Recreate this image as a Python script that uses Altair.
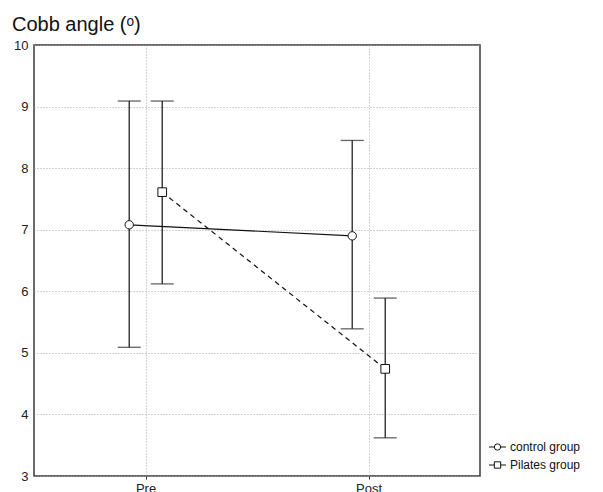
import altair as alt
import pandas as pd

# ---- data ----
times = ["Pre", "Post"]
groups = ["control group", "Pilates group"]
control_mean = [7.08, 6.90]
control_low = [5.09, 5.39]
control_high = [9.09, 8.45]
pilates_mean = [7.61, 4.74]
pilates_low = [6.12, 3.62]
pilates_high = [9.09, 5.89]
y_ticks = [3, 4, 5, 6, 7, 8, 9, 10]

rows = []
for g, means, lows, highs in [
    (groups[0], control_mean, control_low, control_high),
    (groups[1], pilates_mean, pilates_low, pilates_high),
]:
    for i, t in enumerate(times):
        rows.append({"group": g, "time": t, "t": i, "mean": means[i], "low": lows[i], "high": highs[i]})
df = pd.DataFrame(rows)

W, H = 446, 431
FONT = "Liberation Sans"

base = alt.Chart(df).transform_calculate(
    xp="datum.t + (datum.group == 'control group' ? -0.073 : 0.075)"
)

xenc = alt.X(
    "xp:Q",
    scale=alt.Scale(domain=[-0.5, 1.5], nice=False, zero=False),
    axis=alt.Axis(
        values=[0, 1],
        labelExpr="datum.value == 0 ? 'Pre' : 'Post'",
        title=None,
        grid=True,
        ticks=True,
        tickSize=3,
        tickColor="#333",
        labelPadding=3,
        domain=False,
    ),
)
yscale = alt.Scale(domain=[3, 10], nice=False, zero=False)
yenc = alt.Y(
    "mean:Q",
    scale=yscale,
    axis=alt.Axis(values=y_ticks, format="d", title=None, grid=True, ticks=False, labelPadding=6, domain=False),
)

err = base.mark_rule(color="#222", strokeWidth=1.3).encode(
    x=xenc, y=alt.Y("low:Q", scale=yscale), y2="high:Q"
)
cap_lo = base.mark_tick(orient="horizontal", color="#222", size=23, thickness=1.3).encode(
    x=xenc, y=alt.Y("low:Q", scale=yscale)
)
cap_hi = base.mark_tick(orient="horizontal", color="#222", size=23, thickness=1.3).encode(
    x=xenc, y=alt.Y("high:Q", scale=yscale)
)

line_c = base.transform_filter("datum.group == 'control group'").mark_line(
    color="#111", strokeWidth=1.2
).encode(x=xenc, y=yenc)
line_p = base.transform_filter("datum.group == 'Pilates group'").mark_line(
    color="#111", strokeWidth=1.2, strokeDash=[5, 4]
).encode(x=xenc, y=yenc)

pt_c = base.transform_filter("datum.group == 'control group'").mark_point(
    shape="circle", filled=True, fill="white", stroke="#111", strokeWidth=1, size=70, opacity=1
).encode(x=xenc, y=yenc)
pt_p = base.transform_filter("datum.group == 'Pilates group'").mark_point(
    shape="square", filled=True, fill="white", stroke="#111", strokeWidth=1, size=75, opacity=1
).encode(x=xenc, y=yenc)

# ---- legend (drawn manually, bottom right outside plot) ----
leg = pd.DataFrame({"label": groups, "k": [0, 1]})
lx0, lx1, ly0, dy = 455, 472, 402, 18
lxm = (lx0 + lx1) / 2
leg_c = alt.Chart(leg).transform_filter("datum.k == 0")
leg_p = alt.Chart(leg).transform_filter("datum.k == 1")
leg_line_c = leg_c.mark_rule(color="#111", strokeWidth=1).encode(
    x=alt.value(lx0), x2=alt.value(lx1), y=alt.value(ly0)
)
leg_dash_p1 = leg_p.mark_rule(color="#111", strokeWidth=1).encode(
    x=alt.value(lx0), x2=alt.value(lx0 + 5), y=alt.value(ly0 + dy)
)
leg_dash_p2 = leg_p.mark_rule(color="#111", strokeWidth=1).encode(
    x=alt.value(lx1 - 5), x2=alt.value(lx1), y=alt.value(ly0 + dy)
)
leg_pt_c = leg_c.mark_point(shape="circle", filled=True, fill="white", stroke="#111", strokeWidth=1, size=40, opacity=1).encode(
    x=alt.value(lxm), y=alt.value(ly0)
)
leg_pt_p = leg_p.mark_point(shape="square", filled=True, fill="white", stroke="#111", strokeWidth=1, size=40, opacity=1).encode(
    x=alt.value(lxm), y=alt.value(ly0 + dy)
)
leg_txt_c = leg_c.mark_text(align="left", baseline="middle", font=FONT, fontSize=12, color="#111").encode(
    x=alt.value(lx1 + 4), y=alt.value(ly0), text="label:N"
)
leg_txt_p = leg_p.mark_text(align="left", baseline="middle", font=FONT, fontSize=12, color="#111").encode(
    x=alt.value(lx1 + 4), y=alt.value(ly0 + dy), text="label:N"
)

title = alt.Chart(pd.DataFrame({"s": ["Cobb angle (ᵒ)"]})).mark_text(
    align="left", baseline="alphabetic", font=FONT, fontSize=20, color="#111"
).encode(x=alt.value(-22), y=alt.value(-14), text="s:N")

chart = alt.layer(
    err, cap_lo, cap_hi, line_c, line_p, pt_c, pt_p,
    leg_line_c, leg_dash_p1, leg_dash_p2, leg_pt_c, leg_pt_p, leg_txt_c, leg_txt_p, title,
).properties(
    width=W, height=H,
    autosize=alt.AutoSizeParams(type="none"),
    padding={"left": 26, "top": 37, "right": 112, "bottom": 16},
).configure_view(
    stroke="#3a3a3a", strokeWidth=1.5
).configure_axis(
    labelFont=FONT, labelFontSize=13, labelColor="#222",
    gridColor="#a8a8a8", gridDash=[1, 2], gridWidth=1,
)

chart.save("out.html", embed_options={"renderer": "svg", "actions": False})
